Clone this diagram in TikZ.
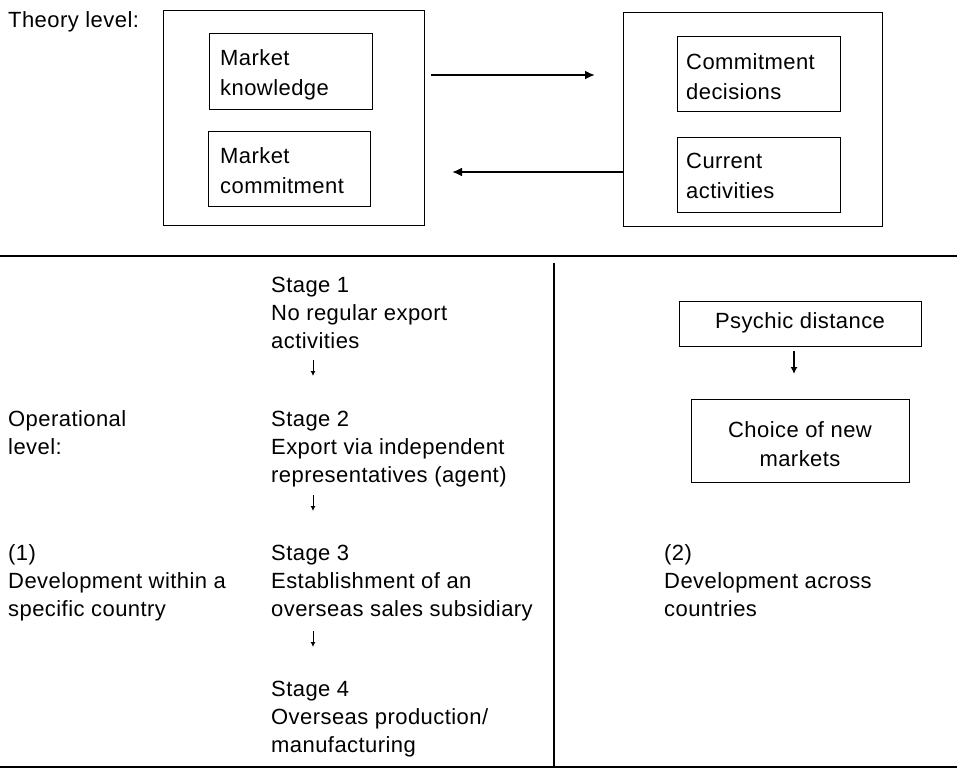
\documentclass[tikz,border=0pt]{standalone}
\usepackage{fontspec}
\setmainfont[LetterSpace=2]{Liberation Sans}
\usetikzlibrary{arrows.meta}
\begin{document}
\begin{tikzpicture}[x=1pt,y=-1pt,
  txt/.style={inner sep=0pt, anchor=base west, align=left, font=\fontsize{22}{27.7}\selectfont},
  boxtxt/.style={inner sep=0pt, anchor=base west, align=left, font=\fontsize{22}{30}\selectfont},
  ctxt/.style={inner sep=0pt, anchor=base, align=center, font=\fontsize{22}{29}\selectfont},
  boxframe/.style={draw, line width=1.1pt, inner sep=0pt, anchor=north west},
  hrule/.style={line width=2.4pt},
  vrule/.style={line width=1.2pt},
  bigarrow/.style={line width=2.6pt, -{Latex[length=10pt,width=9pt]}},
  midarrow/.style={line width=1.5pt, -{Latex[length=7pt,width=7pt]}},
  smallarrow/.style={line width=1pt, -{Latex[length=5pt,width=5pt]}},
]
\useasboundingbox (0,0) rectangle (957,769);

% theory level (base anchor of a multi-line node = baseline of its last line)
\node[txt] (theory) at (8,27) {Theory level:};
\node[boxframe, minimum width=261pt, minimum height=215pt] (lbox) at (163,10) {};
\node[boxframe, minimum width=259pt, minimum height=214pt] (rbox) at (623,12) {};
\node[boxframe, minimum width=163pt, minimum height=76pt] (mk) at (209,33) {};
\node[boxframe, minimum width=162pt, minimum height=75pt] (mc) at (208,131) {};
\node[boxframe, minimum width=163pt, minimum height=75pt] (cd) at (677,36) {};
\node[boxframe, minimum width=163pt, minimum height=75pt] (ca) at (677,137) {};
\node[boxtxt] (mkt) at (220,95) {Market\\knowledge};
\node[boxtxt] (mct) at (220,193) {Market\\commitment};
\node[boxtxt] (cdt) at (686,99) {Commitment\\decisions};
\node[boxtxt] (cat) at (686,198) {Current\\activities};

\coordinate (ra1) at (431,75);
\coordinate (ra2) at (595,75);
\coordinate (la1) at (623,172);
\coordinate (la2) at (452,172);
\draw[bigarrow] (ra1) -- (ra2);
\draw[bigarrow] (la1) -- (la2);

% rules
\draw[hrule] (0,256) -- (957,256);
\draw[vrule] (554,263) -- (554,767);
\draw[hrule] (0,767) -- (957,767);

% operational level
\node[txt] (op) at (8,454) {Operational\\level:};
\node[txt] (c1) at (8,616) {(1)\\Development within a\\specific country};

\node[txt] (s1) at (271,348) {Stage 1\\No regular export\\activities};
\node[txt] (s2) at (271,482) {Stage 2\\Export via independent\\representatives (agent)};
\node[txt] (s3) at (271,616) {Stage 3\\Establishment of an\\overseas sales subsidiary};
\node[txt] (s4) at (271,752) {Stage 4\\Overseas production/\\manufacturing};

\coordinate (d1a) at (313,360); \coordinate (d1b) at (313,376);
\coordinate (d2a) at (313,495); \coordinate (d2b) at (313,511);
\coordinate (d3a) at (313,631); \coordinate (d3b) at (313,647);
\draw[smallarrow] (d1a) -- (d1b);
\draw[smallarrow] (d2a) -- (d2b);
\draw[smallarrow] (d3a) -- (d3b);

% right column
\node[boxframe, minimum width=242pt, minimum height=45pt] (pd) at (679,301) {};
\node[ctxt] (pdt) at (800,328) {Psychic distance};
\node[boxframe, minimum width=218pt, minimum height=83pt] (cn) at (691,399) {};
\node[ctxt] (cnt) at (800,466) {Choice of new\\markets};
\coordinate (pa1) at (794,351);
\coordinate (pa2) at (794,374);
\draw[midarrow] (pa1) -- (pa2);

\node[txt] (c2) at (664,616) {(2)\\Development across\\countries};
\end{tikzpicture}
\end{document}
